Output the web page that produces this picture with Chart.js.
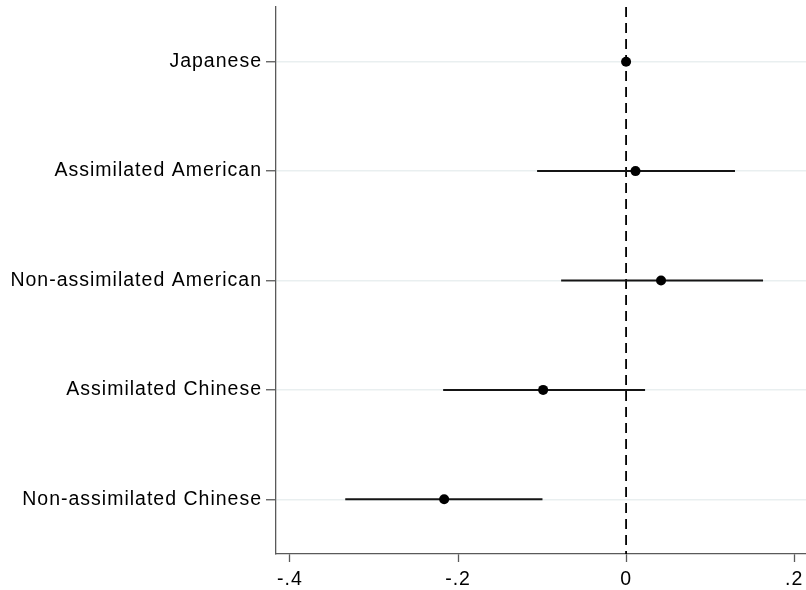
<!DOCTYPE html>
<html>
<head>
<meta charset="utf-8">
<style>
  html, body { margin: 0; padding: 0; background: #ffffff; }
  #chart { display: block; }
</style>
<script src="https://cdn.jsdelivr.net/npm/chart.js@4/dist/chart.umd.min.js"></script>
</head>
<body>
<canvas id="chart" width="806" height="590"></canvas>
<script>
// Coefficient estimates with 95% confidence intervals
const categories = ['Japanese', 'Assimilated American', 'Non-assimilated American', 'Assimilated Chinese', 'Non-assimilated Chinese'];
const estimates = [0, 0.0112, 0.0416, -0.0987, -0.2165];
const lowerCI = [null, -0.1059, -0.0773, -0.2177, -0.3342];
const upperCI = [null, 0.1296, 0.1630, 0.0226, -0.0995];
const xTickValues = [-0.4, -0.2, 0, 0.2];
const xTickLabels = ['-.4', '-.2', '0', '.2'];

const axisColor = '#5a5a5a';
const gridColor = '#e9eff0';
const labelFont = { family: '"Liberation Sans", Arial, Helvetica, sans-serif', size: 19.5, lineHeight: 1.1 };

// Reference line at zero
const zeroLine = {
  type: 'line',
  data: [{ x: 0, y: -0.5 }, { x: 0, y: categories.length - 0.5 }],
  borderColor: '#000000',
  borderWidth: 1.8,
  borderDash: [10, 6],
  pointRadius: 0,
  order: 3
};

// Confidence interval segments
const ciLines = categories.map((c, i) => lowerCI[i] === null ? null : {
  type: 'line',
  data: [{ x: lowerCI[i], y: i }, { x: upperCI[i], y: i }],
  borderColor: '#151515',
  borderWidth: 2,
  pointRadius: 0,
  order: 2
}).filter(Boolean);

// Point estimates
const points = {
  type: 'scatter',
  data: estimates.map((v, i) => ({ x: v, y: i })),
  backgroundColor: '#000000',
  borderWidth: 0,
  pointRadius: 5,
  order: 1
};

// Slightly tracked lettering for axis labels
const tracking = {
  id: 'tracking',
  beforeUpdate(chart) { chart.ctx.letterSpacing = '1px'; },
  beforeDraw(chart) { chart.ctx.letterSpacing = '1px'; }
};

new Chart(document.getElementById('chart'), {
  type: 'scatter',
  data: { datasets: [zeroLine, ...ciLines, points] },
  plugins: [tracking],
  options: {
    responsive: false,
    animation: false,
    layout: { autoPadding: false, padding: { top: 7, right: 0, bottom: 0, left: 0 } },
    plugins: { legend: { display: false }, tooltip: { enabled: false } },
    scales: {
      x: {
        type: 'linear',
        position: 'bottom',
        min: -0.4166,
        max: 0.2141,
        afterBuildTicks: axis => { axis.ticks = xTickValues.map(v => ({ value: v })); },
        afterFit: axis => { axis.height = 36; axis.paddingLeft = 0; axis.paddingRight = 0; },
        grid: { drawOnChartArea: false, drawTicks: true, tickLength: 8, tickColor: axisColor, tickWidth: 1.3 },
        border: { color: axisColor, width: 1.3 },
        ticks: {
          color: '#000000',
          font: labelFont,
          padding: 7,
          maxRotation: 0,
          callback: (v, i) => xTickLabels[i]
        }
      },
      y: {
        type: 'linear',
        reverse: true,
        min: -0.5,
        max: categories.length - 0.5,
        afterBuildTicks: axis => { axis.ticks = categories.map((c, i) => ({ value: i })); },
        afterFit: axis => { axis.width = 276; axis.paddingTop = 0; axis.paddingBottom = 0; },
        grid: { color: gridColor, lineWidth: 1.5, drawTicks: true, tickLength: 10, tickColor: axisColor, tickWidth: 1.3 },
        border: { color: axisColor, width: 1.3 },
        ticks: {
          color: '#000000',
          font: labelFont,
          padding: 4,
          callback: (v, i) => categories[i]
        }
      }
    }
  }
});
</script>
</body>
</html>
